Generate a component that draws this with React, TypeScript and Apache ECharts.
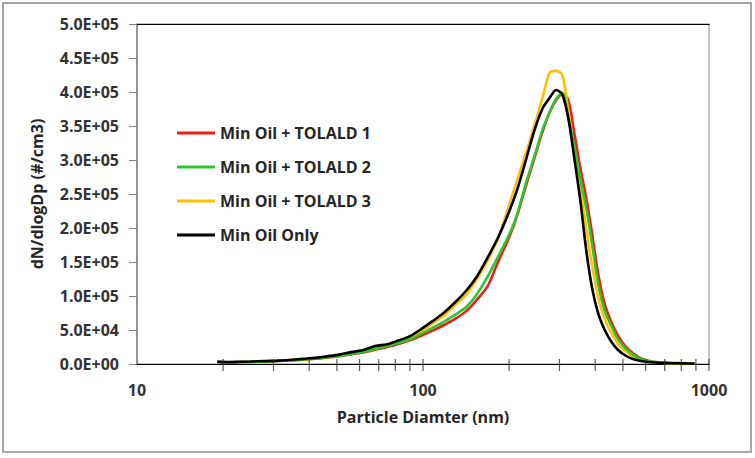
import React, { useEffect, useRef } from "react";
import * as echarts from "echarts";

const diameters = [
  19.1, 21, 23, 25, 28, 31, 34, 38, 42, 46, 51, 56, 62, 68, 75, 82, 90, 99, 108, 118,
  129, 141, 154, 168, 183, 200, 214, 229, 245, 262, 277, 292, 307, 322, 338, 355, 372, 390,
  410, 432, 455, 480, 510, 545, 585, 630, 680, 740, 810, 890,
];

// values in thousands of #/cm3
const tolald1 = [
  2.0, 2.3, 2.7, 3.0, 3.6, 4.3, 5.1, 6.3, 7.7, 9.4, 11.6, 14.2, 17.0, 21.0, 25.0, 29.5, 35.0, 42.0, 49.0, 57.0,
  66.0, 77.0, 94.0, 114.0, 150.0, 186.0, 220.0, 262.0, 302.0, 342.0, 370.0, 388.0, 397.0, 388.0, 340.0, 288.0, 245.0, 192.0,
  132.0, 88.0, 62.0, 42.0, 26.0, 15.0, 7.5, 3.8, 2.3, 1.5, 1.0, 0.7,
];
const tolald2 = [
  2.5, 2.6, 2.9, 3.2, 3.8, 4.5, 5.3, 6.6, 8.0, 9.8, 12.0, 14.8, 18.0, 22.0, 26.5, 31.0, 36.5, 45.0, 53.0, 62.0,
  72.0, 83.0, 102.0, 128.0, 158.0, 190.0, 222.0, 266.0, 305.0, 345.0, 370.0, 390.0, 399.0, 362.0, 321.0, 272.0, 230.0, 176.0,
  117.0, 78.0, 56.0, 37.0, 23.0, 13.0, 6.5, 3.2, 2.0, 1.3, 0.9, 0.6,
];
const tolald3 = [
  2.5, 2.6, 3.0, 3.4, 4.0, 4.7, 5.5, 7.0, 8.4, 10.3, 12.8, 16.0, 19.0, 24.0, 27.5, 33.0, 39.0, 49.0, 60.0, 71.0,
  86.0, 101.0, 124.0, 152.0, 185.0, 234.0, 272.0, 310.0, 350.0, 392.0, 428.0, 431.0, 425.0, 372.0, 312.0, 258.0, 200.0, 145.0,
  98.0, 66.0, 46.0, 30.0, 19.0, 10.0, 5.0, 2.8, 1.8, 1.2, 0.8, 0.5,
];
const minOilOnly = [
  3.5, 2.8, 3.2, 3.6, 4.3, 5.0, 5.9, 7.6, 9.0, 11.2, 13.8, 17.5, 20.5, 26.5, 29.0, 34.5, 41.0, 52.0, 63.0, 75.0,
  90.0, 107.0, 128.0, 156.0, 186.0, 224.0, 258.0, 300.0, 343.0, 376.0, 391.0, 403.0, 396.0, 362.0, 303.0, 240.0, 168.0, 112.0,
  74.0, 50.0, 33.0, 21.0, 12.5, 7.0, 4.0, 2.6, 1.8, 1.2, 0.9, 0.6,
];

const seriesNames = ["Min Oil + TOLALD 1", "Min Oil + TOLALD 2", "Min Oil + TOLALD 3", "Min Oil Only"];
const seriesColors = ["#ee1c1c", "#2ec52e", "#ffc000", "#000000"];
const minorTicks = [20, 30, 40, 50, 60, 70, 80, 90, 100, 200, 300, 400, 500, 600, 700, 800, 900, 1000];

const FONT = "'Open Sans', 'Noto Sans', sans-serif";

function sci(v: number): string {
  if (v === 0) return "0.0E+00";
  const e = Math.floor(Math.log10(v) + 1e-9);
  const m = v / Math.pow(10, e);
  return m.toFixed(1) + "E+" + (e < 10 ? "0" + e : String(e));
}

export default function App() {
  const ref = useRef<HTMLDivElement>(null);
  useEffect(() => {
    document.body.style.margin = "0";
    if (!ref.current) return;
    const chart = echarts.init(ref.current, null, { renderer: "svg" });
    const valueSets = [tolald1, tolald2, tolald3, minOilOnly];
    const zOrder = [1, 3, 2, 4];
    const lineSeries = valueSets.map((vals, i) => ({
      name: seriesNames[i],
      type: "line",
      data: diameters.map((d, j) => [d, vals[j] * 1000]),
      showSymbol: false,
      smooth: 0.3,
      z: zOrder[i] + 2,
      lineStyle: { color: seriesColors[i], width: 2.6 },
      itemStyle: { color: seriesColors[i] },
    }));
    chart.setOption({
      animation: false,
      backgroundColor: "#ffffff",
      graphic: [
        {
          type: "rect",
          shape: { x: 3, y: 3, width: 748, height: 449 },
          style: { fill: "none", stroke: "#a6a6a6", lineWidth: 2 },
          silent: true,
        },
      ],
      grid: {
        left: 137,
        right: 46,
        top: 24,
        bottom: 94,
        show: true,
        borderColor: "#8c8c8c",
        borderWidth: 1,
      },
      legend: {
        data: seriesNames,
        orient: "vertical",
        left: 172,
        top: 120,
        itemWidth: 38,
        itemHeight: 3,
        itemGap: 18,
        icon: "rect",
        textStyle: { fontFamily: FONT, fontSize: 16, fontWeight: "bold", color: "#262626", lineHeight: 16 },
      },
      xAxis: [
        {
          type: "log",
          logBase: 10,
          min: 10,
          max: 1000,
          name: "Particle Diamter (nm)",
          nameLocation: "middle",
          nameGap: 45,
          nameTextStyle: { fontFamily: FONT, fontSize: 16, fontWeight: "bold", color: "#262626" },
          axisLine: { lineStyle: { color: "#000000", width: 1.2 } },
          axisTick: { show: false },
          splitLine: { show: false },
          minorTick: { show: false },
          axisLabel: {
            fontFamily: FONT,
            fontSize: 16,
            fontWeight: "bold",
            color: "#333333",
            margin: 18,
            formatter: (v: number) => String(Math.round(v)),
          },
        },
        {
          type: "log",
          logBase: 10,
          min: 10,
          max: 1000,
          position: "top",
          axisLine: { lineStyle: { color: "#000000", width: 1.2 } },
          axisTick: { show: false },
          axisLabel: { show: false },
          splitLine: { show: false },
        },
      ],
      yAxis: {
        type: "value",
        min: 0,
        max: 500000,
        interval: 50000,
        name: "dN/dlogDp (#/cm3)",
        nameLocation: "middle",
        nameGap: 92,
        nameTextStyle: { fontFamily: FONT, fontSize: 16, fontWeight: "bold", color: "#262626" },
        axisLine: { show: true, lineStyle: { color: "#808080", width: 1.5 } },
        axisTick: { show: true, inside: false, length: 8, lineStyle: { color: "#808080" } },
        splitLine: { show: false },
        axisLabel: {
          fontFamily: FONT,
          fontSize: 16,
          fontWeight: "bold",
          color: "#333333",
          margin: 18,
          formatter: (v: number) => sci(v),
        },
      },
      series: [
        ...lineSeries,
        {
          name: "ticks",
          type: "scatter",
          data: minorTicks.map((t) => [t, 0]),
          symbol: "rect",
          symbolSize: [1.2, 12],
          symbolOffset: [0, 1],
          itemStyle: { color: "#333333" },
          silent: true,
          clip: false,
          z: 10,
        },
      ],
    });
    return () => chart.dispose();
  }, []);
  return <div ref={ref} style={{ width: 755, height: 458 }} />;
}
